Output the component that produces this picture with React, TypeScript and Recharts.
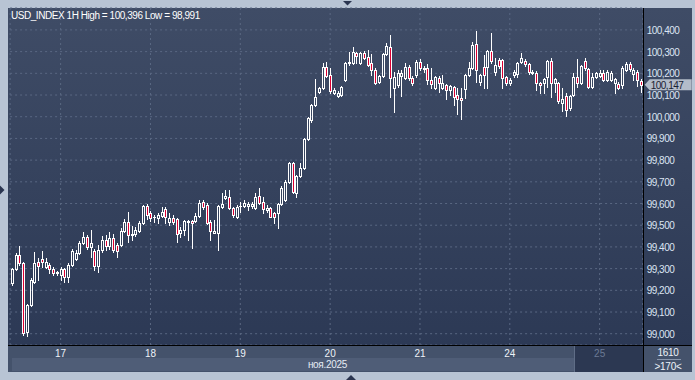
import React from 'react';
import { ComposedChart, Bar, XAxis, YAxis, CartesianGrid, ReferenceLine } from 'recharts';

const opens = [
  99.234, 99.299, 99.363, 99.326, 99.009, 99.133, 99.239, 99.331, 99.345, 99.308,
  99.317, 99.299, 99.280, 99.271, 99.299, 99.262, 99.317, 99.345, 99.372, 99.418,
  99.446, 99.400, 99.382, 99.313, 99.386, 99.432, 99.405, 99.442, 99.409, 99.409,
  99.474, 99.515, 99.460, 99.460, 99.474, 99.511, 99.589, 99.557, 99.538, 99.534,
  99.543, 99.575, 99.515, 99.534, 99.529, 99.465, 99.478, 99.520, 99.520, 99.520,
  99.543, 99.607, 99.594, 99.515, 99.465, 99.465, 99.584, 99.626, 99.630, 99.580,
  99.538, 99.589, 99.589, 99.589, 99.589, 99.580, 99.635, 99.607, 99.571, 99.580,
  99.557, 99.557, 99.598, 99.617, 99.700, 99.787, 99.649, 99.727, 99.764, 99.898,
  99.985, 100.054, 100.114, 100.133, 100.229, 100.193, 100.110, 100.096, 100.100, 100.170,
  100.248, 100.248, 100.294, 100.248, 100.294, 100.276, 100.248, 100.216, 100.160, 100.188,
  100.289, 100.322, 100.133, 100.147, 100.188, 100.179, 100.229, 100.179, 100.193, 100.253,
  100.225, 100.225, 100.170, 100.133, 100.179, 100.133, 100.147, 100.124, 100.137, 100.100,
  100.087, 100.128, 100.193, 100.225, 100.335, 100.160, 100.229, 100.229, 100.303, 100.206,
  100.262, 100.262, 100.183, 100.156, 100.193, 100.197, 100.253, 100.257, 100.243, 100.202,
  100.202, 100.156, 100.156, 100.183, 100.257, 100.156, 100.156, 100.064, 100.096, 100.041,
  100.100, 100.183, 100.156, 100.257, 100.220, 100.137, 100.183, 100.188, 100.202, 100.170,
  100.170, 100.156, 100.151, 100.147, 100.216, 100.243, 100.197, 100.206, 100.165,
];
const highs = [
  99.303, 99.372, 99.405, 99.331, 99.138, 99.257, 99.377, 99.349, 99.382, 99.349,
  99.326, 99.308, 99.290, 99.308, 99.303, 99.326, 99.391, 99.386, 99.428, 99.469,
  99.455, 99.478, 99.391, 99.409, 99.451, 99.455, 99.469, 99.460, 99.418, 99.488,
  99.529, 99.561, 99.497, 99.492, 99.520, 99.594, 99.598, 99.566, 99.548, 99.557,
  99.584, 99.584, 99.557, 99.548, 99.534, 99.492, 99.524, 99.524, 99.524, 99.557,
  99.617, 99.617, 99.603, 99.524, 99.524, 99.594, 99.649, 99.663, 99.663, 99.584,
  99.594, 99.607, 99.617, 99.607, 99.607, 99.649, 99.672, 99.630, 99.594, 99.584,
  99.561, 99.603, 99.681, 99.709, 99.792, 99.792, 99.732, 99.787, 99.902, 99.999,
  100.059, 100.174, 100.137, 100.248, 100.253, 100.225, 100.133, 100.119, 100.142, 100.253,
  100.299, 100.322, 100.299, 100.299, 100.303, 100.308, 100.289, 100.225, 100.193, 100.294,
  100.340, 100.377, 100.206, 100.216, 100.216, 100.248, 100.239, 100.188, 100.262, 100.266,
  100.234, 100.243, 100.225, 100.188, 100.188, 100.193, 100.151, 100.147, 100.142, 100.133,
  100.133, 100.197, 100.253, 100.345, 100.396, 100.197, 100.285, 100.308, 100.386, 100.271,
  100.271, 100.266, 100.188, 100.179, 100.216, 100.253, 100.294, 100.266, 100.248, 100.216,
  100.211, 100.160, 100.179, 100.262, 100.271, 100.179, 100.160, 100.133, 100.110, 100.100,
  100.202, 100.266, 100.239, 100.271, 100.225, 100.202, 100.206, 100.216, 100.216, 100.216,
  100.211, 100.179, 100.160, 100.234, 100.253, 100.253, 100.225, 100.216, 100.174,
];
const lows = [
  99.225, 99.294, 99.317, 98.995, 98.991, 99.128, 99.234, 99.248, 99.308, 99.303,
  99.280, 99.271, 99.271, 99.248, 99.239, 99.239, 99.313, 99.340, 99.368, 99.414,
  99.391, 99.354, 99.294, 99.285, 99.377, 99.386, 99.391, 99.377, 99.354, 99.405,
  99.469, 99.423, 99.432, 99.451, 99.469, 99.506, 99.529, 99.520, 99.515, 99.511,
  99.538, 99.511, 99.501, 99.506, 99.423, 99.446, 99.455, 99.432, 99.395, 99.515,
  99.538, 99.575, 99.506, 99.432, 99.465, 99.386, 99.580, 99.621, 99.575, 99.538,
  99.534, 99.561, 99.584, 99.571, 99.580, 99.575, 99.598, 99.557, 99.561, 99.538,
  99.511, 99.488, 99.594, 99.612, 99.695, 99.649, 99.630, 99.723, 99.759, 99.893,
  99.976, 100.050, 100.110, 100.128, 100.183, 100.110, 100.105, 100.091, 100.096, 100.165,
  100.239, 100.243, 100.248, 100.243, 100.266, 100.234, 100.193, 100.151, 100.156, 100.183,
  100.285, 100.091, 100.022, 100.137, 100.096, 100.174, 100.170, 100.147, 100.183, 100.216,
  100.206, 100.151, 100.133, 100.128, 100.114, 100.128, 100.082, 100.100, 100.054, 100.013,
  99.990, 100.087, 100.188, 100.220, 100.160, 100.147, 100.133, 100.133, 100.248, 100.193,
  100.225, 100.133, 100.147, 100.147, 100.183, 100.183, 100.248, 100.234, 100.197, 100.197,
  100.124, 100.110, 100.110, 100.137, 100.091, 100.114, 100.064, 100.027, 100.004, 100.031,
  100.096, 100.137, 100.151, 100.216, 100.133, 100.133, 100.179, 100.183, 100.165, 100.165,
  100.165, 100.110, 100.128, 100.133, 100.211, 100.211, 100.170, 100.142, 100.114,
];
const closes = [
  99.299, 99.363, 99.326, 99.004, 99.133, 99.248, 99.326, 99.313, 99.331, 99.331,
  99.299, 99.280, 99.285, 99.299, 99.262, 99.317, 99.382, 99.372, 99.418, 99.446,
  99.400, 99.418, 99.313, 99.386, 99.432, 99.405, 99.442, 99.386, 99.382, 99.474,
  99.515, 99.455, 99.455, 99.478, 99.511, 99.589, 99.548, 99.534, 99.538, 99.548,
  99.561, 99.538, 99.534, 99.515, 99.460, 99.478, 99.520, 99.515, 99.511, 99.543,
  99.603, 99.584, 99.511, 99.474, 99.474, 99.589, 99.598, 99.635, 99.580, 99.548,
  99.584, 99.588, 99.603, 99.598, 99.598, 99.630, 99.603, 99.575, 99.580, 99.538,
  99.538, 99.598, 99.672, 99.700, 99.787, 99.654, 99.727, 99.764, 99.898, 99.994,
  100.054, 100.091, 100.133, 100.229, 100.188, 100.119, 100.124, 100.110, 100.137, 100.248,
  100.253, 100.299, 100.280, 100.294, 100.271, 100.239, 100.216, 100.156, 100.188, 100.289,
  100.326, 100.179, 100.183, 100.202, 100.202, 100.229, 100.179, 100.156, 100.253, 100.225,
  100.220, 100.170, 100.151, 100.183, 100.156, 100.156, 100.124, 100.142, 100.091, 100.082,
  100.077, 100.193, 100.225, 100.331, 100.216, 100.193, 100.193, 100.303, 100.257, 100.239,
  100.234, 100.179, 100.156, 100.170, 100.206, 100.248, 100.271, 100.243, 100.206, 100.206,
  100.156, 100.147, 100.174, 100.257, 100.156, 100.174, 100.073, 100.082, 100.031, 100.096,
  100.183, 100.156, 100.234, 100.225, 100.137, 100.183, 100.202, 100.202, 100.170, 100.206,
  100.202, 100.174, 100.133, 100.225, 100.243, 100.220, 100.216, 100.170, 100.147,
];

const dayStartIndex = [13, 37, 61, 85, 109, 133, 157];
const dayLabels = ['17', '18', '19', '20', '21', '24', '25'];
const priceTicks = [99.0, 99.1, 99.2, 99.3, 99.4, 99.5, 99.6, 99.7, 99.8, 99.9, 100.0, 100.1, 100.2, 100.3, 100.4];
const symbol = 'USD_INDEX';
const timeframe = '1H';
const monthLabel = 'ноя.2025';
const totalBars = '1610';
const visibleBars = '>170<';

const FONT = '"Liberation Sans", Arial, sans-serif';
const fmt = (v: number) => v.toFixed(3).replace('.', ',');

const data = opens.map((o, i) => ({ i, open: o, high: highs[i], low: lows[i], close: closes[i] }));
const maxHigh = Math.max(...highs);
const minLow = Math.min(...lows);
const lastClose = closes[closes.length - 1];

const Candle = (props: any) => {
  const { x, y, width, height, payload } = props;
  if (x == null || y == null || !payload) return null;
  const cx = Math.round(x + width / 2) + 0.5;
  const top = Math.min(y, y + height);
  const span = Math.abs(height);
  const { open, close, high, low } = payload;
  const range = high - low || 1e-9;
  const py = (v: number) => top + ((high - v) / range) * span;
  const bTop = Math.round(py(Math.max(open, close))) + 0.5;
  const bBot = Math.round(py(Math.min(open, close))) + 0.5;
  const hiY = Math.round(py(high)) + 0.5;
  const loY = Math.round(py(low)) + 0.5;
  const bear = close < open;
  return (
    <g shapeRendering="crispEdges">
      {hiY < bTop && <line x1={cx} x2={cx} y1={hiY - 0.5} y2={bTop} stroke="#ffffff" strokeWidth={1} />}
      {loY > bBot && <line x1={cx} x2={cx} y1={bBot} y2={loY + 0.5} stroke="#ffffff" strokeWidth={1} />}
      {bBot - bTop < 0.5 ? (
        <line x1={cx - 1.5} x2={cx + 1.5} y1={bTop} y2={bTop} stroke="#ffffff" strokeWidth={1} />
      ) : (
        <rect x={cx - 1} y={bTop} width={2} height={bBot - bTop} fill={bear ? '#dc0032' : 'none'} stroke="#ffffff" strokeWidth={1} />
      )}
    </g>
  );
};

const PriceTick = (props: any) => {
  const { x, y, payload } = props;
  return (
    <text x={x} y={y + 4} fill="#dbe4f2" fontSize={10} fontFamily={FONT} letterSpacing={-0.5} textAnchor="start">
      {fmt(payload.value)}
    </text>
  );
};

const DayTick = (props: any) => {
  const { x, payload } = props;
  const idx = dayStartIndex.indexOf(payload.value);
  const last = idx === dayStartIndex.length - 1;
  return (
    <text x={x} y={357} fill={last ? '#6b7a95' : '#eef2f8'} fontSize={10} fontFamily={FONT} textAnchor="middle">
      {dayLabels[idx]}
    </text>
  );
};

const PriceTag = (props: any) => {
  const vb = props.viewBox || {};
  const x0 = (vb.x || 0) + (vb.width || 0) + 2;
  const yc = vb.y || 0;
  return (
    <g>
      <polygon
        points={`${x0},${yc} ${x0 + 5},${yc - 5.5} ${x0 + 47},${yc - 5.5} ${x0 + 47},${yc + 5.5} ${x0 + 5},${yc + 5.5}`}
        fill="#b3bcc9"
      />
      <text x={x0 + 6} y={yc + 4} fill="#1a2233" fontSize={10} fontFamily={FONT} letterSpacing={-0.5}>
        {fmt(lastClose)}
      </text>
    </g>
  );
};

export default function App() {
  return (
    <div style={{ position: 'fixed', left: 0, top: 0, width: 695, height: 380, background: '#b8c4d4', overflow: 'hidden' }}>
      <svg width={695} height={380} style={{ position: 'absolute', left: 0, top: 0 }}>
        <defs>
          <linearGradient id="bg" x1="0" y1="0" x2="0" y2="1">
            <stop offset="0%" stopColor="#3f4c66" />
            <stop offset="100%" stopColor="#2c3955" />
          </linearGradient>
        </defs>
        <rect x={8} y={8} width={684} height={338} fill="url(#bg)" />
        <rect x={8} y={346} width={684} height={26} fill="#44526b" />
        <rect x={12} y={358} width={563} height={13} fill="#4f5d77" />
        <rect x={575} y={346} width={68} height={26} fill="#2c3852" />
      </svg>
      <ComposedChart
        width={695}
        height={380}
        data={data}
        margin={{ top: 8, right: 5.3, bottom: 9, left: 10.1 }}
        style={{ position: 'absolute', left: 0, top: 0 }}
      >
        <CartesianGrid stroke="#5a6883" strokeDasharray="2 3" />
        <XAxis
          dataKey="i"
          type="category"
          ticks={dayStartIndex}
          interval={0}
          height={26}
          tickLine={false}
          axisLine={false}
          tick={<DayTick />}
        />
        <YAxis
          orientation="right"
          width={47}
          type="number"
          domain={[98.948, 100.501]}
          allowDataOverflow
          ticks={priceTicks}
          interval={0}
          tickLine={false}
          axisLine={false}
          tickSize={0}
          tickMargin={4}
          tick={<PriceTick />}
        />
        <Bar dataKey={(d: any) => [d.low, d.high]} shape={<Candle />} isAnimationActive={false} />
        <ReferenceLine y={lastClose} stroke="none" ifOverflow="visible" label={<PriceTag />} />
      </ComposedChart>
      <svg width={695} height={380} style={{ position: 'absolute', left: 0, top: 0, pointerEvents: 'none' }}>
        <line x1={643.5} x2={643.5} y1={8} y2={372} stroke="#000000" />
        <line x1={8} x2={692} y1={345.5} y2={345.5} stroke="#000000" />
        <line x1={574.5} x2={574.5} y1={346} y2={372} stroke="#5f6d86" />
        <text x={11} y={18.5} fill="#ffffff" fontSize={10} fontFamily={FONT} letterSpacing={-0.45}>
          {`${symbol} ${timeframe} High = ${fmt(maxHigh)} Low = ${fmt(minLow)}`}
        </text>
        <text x={347} y={368} fill="#e6ecf5" fontSize={10} fontFamily={FONT} textAnchor="end" letterSpacing={-0.3}>
          {monthLabel}
        </text>
        <text x={668} y={355.5} fill="#eef2f8" fontSize={10} fontFamily={FONT} textAnchor="middle" letterSpacing={-0.3}>
          {totalBars}
        </text>
        <line x1={657} x2={681} y1={359.5} y2={359.5} stroke="#8a97ad" />
        <text x={668} y={369.5} fill="#eef2f8" fontSize={10} fontFamily={FONT} textAnchor="middle" letterSpacing={-0.3}>
          {visibleBars}
        </text>
        <polygon points="343,1 352,1 347.5,5.5" fill="#2a3550" />
        <polygon points="0,185.5 0,194.5 4.5,190" fill="#2a3550" />
        <polygon points="346,380 356,380 351,375" fill="#2a3550" />
      </svg>
    </div>
  );
}
